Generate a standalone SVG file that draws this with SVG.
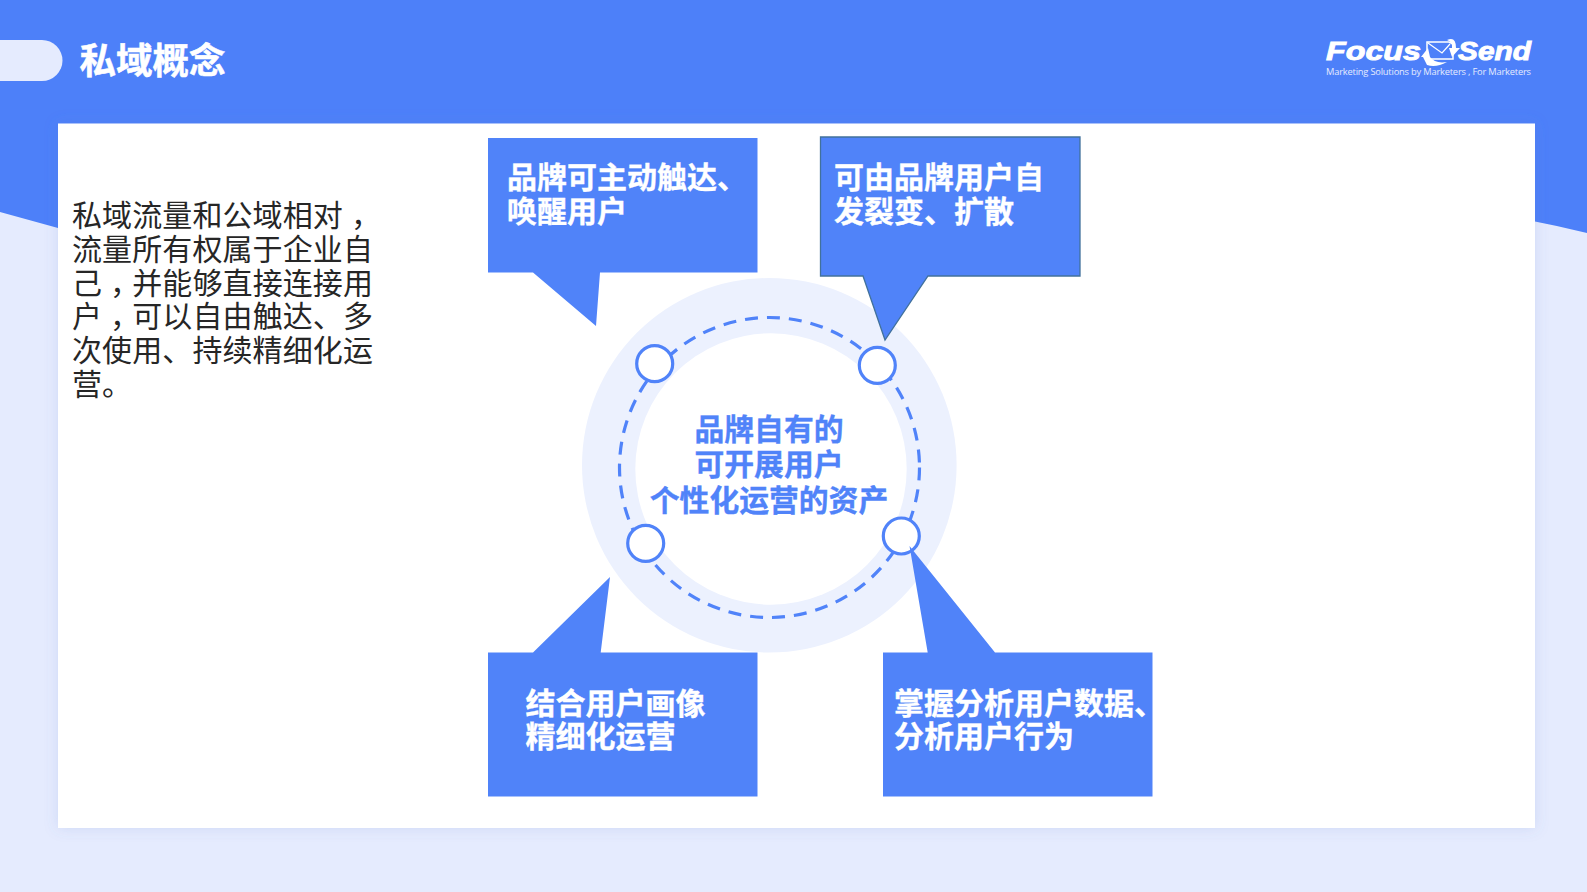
<svg xmlns="http://www.w3.org/2000/svg" width="1587" height="892" viewBox="0 0 1587 892">
<style>
text{font-family:"Noto Sans CJK SC","Liberation Sans",sans-serif}
.w{fill:#fff;font-weight:700;font-size:30px;stroke:#fff;stroke-width:.35}
.box{fill:#5083f9}
.dot{fill:#fff;stroke:#5083f9;stroke-width:3.2}
.logo{font-family:"Liberation Sans",sans-serif;font-style:italic;font-weight:700;font-size:26px;fill:#fff;stroke:#fff;stroke-width:.9}
</style>
<defs>
<filter id="sh" x="-3%" y="-3%" width="106%" height="106%"><feDropShadow dx="0" dy="0" stdDeviation="7" flood-color="#5a78c8" flood-opacity=".18"/></filter>
</defs>
<rect width="1587" height="892" fill="#e5ebfe"/>
<path d="M0 0H1587V233Q1500 212 1400 200L800 190L200 200Q100 205 58 228L0 212Z" fill="#4d80f9"/>
<path d="M0 40H42A20.500 20.500 0 0 1 42 81H0Z" fill="#e5ebfe"/>
<text x="79.500" y="73.500" font-size="36.500" font-weight="700" fill="#fff" stroke="#fff" stroke-width=".5">私域概念</text>
<g id="logo">
<text class="logo" x="1326" y="60" textLength="95" lengthAdjust="spacingAndGlyphs">Focus</text>
<path d="M1427 42H1449L1453 44V59H1427Z" fill="#4d80f9" stroke="#fff" stroke-width="1.500"/>
<path d="M1428 43L1442 53L1450 44" fill="none" stroke="#fff" stroke-width="1.200"/>
<path d="M1421 57L1428 48L1430 57Q1435 64 1447 62Q1436 68 1427 65L1423 57ZM1447 40Q1456 36 1456 48L1460 48L1452 57L1449 48L1452 48Q1453 42 1447 40Z" fill="#fff"/>
<text class="logo" x="1458" y="60" textLength="73" lengthAdjust="spacingAndGlyphs">Send</text>
<text x="1326" y="75" font-size="9.300" fill="#e5ebfe" style="font-family:'Open Sans',sans-serif" textLength="205">Marketing Solutions by Marketers , For Marketers</text>
</g>
<rect id="panel" x="58" y="123.500" width="1477" height="704.500" fill="#fff" filter="url(#sh)"/>
<g id="description" font-size="30" fill="#262626" letter-spacing=".1">
<text x="72" y="226">私域流量和公域相对<tspan dx="8">，</tspan></text>
<text x="72" y="260">流量所有权属于企业自</text>
<text x="72" y="294">己<tspan dx="8">，</tspan><tspan dx="-8">并</tspan>能够直接连接用</text>
<text x="72" y="327">户<tspan dx="8">，</tspan><tspan dx="-8">可</tspan>以自由触达、多</text>
<text x="72" y="361">次使用、持续精细化运</text>
<text x="72" y="395">营。</text>
</g>
<g id="hub">
<circle cx="769.300" cy="465.300" r="187.300" fill="#ecf1fe"/>
<circle cx="771" cy="469" r="135.700" fill="#fff"/>
<circle cx="769.500" cy="467.500" r="150" fill="none" stroke="#5083f9" stroke-width="3.200" stroke-dasharray="13 9"/>
<g font-size="29.800" font-weight="700" fill="#5083f9" stroke="#5083f9" stroke-width=".35" text-anchor="middle">
<text x="769" y="439.500">品牌自有的</text>
<text x="769" y="475">可开展用户</text>
<text x="769" y="510.500">个性化运营的资产</text>
</g>
</g>
<g id="dot-1"><circle class="dot" cx="654.700" cy="363.700" r="18"/></g>
<g id="dot-2"><circle class="dot" cx="877.300" cy="365.300" r="18"/></g>
<g id="dot-3"><circle class="dot" cx="645.700" cy="543.300" r="18"/></g>
<g id="dot-4"><circle class="dot" cx="901.300" cy="536" r="18"/></g>
<g id="callout-1">
<path class="box" d="M488 138H757.500V272.500H600L596 326L533 272.500H488Z"/>
<text class="w" x="507" y="188">品牌可主动触达、</text>
<text class="w" x="507" y="221.500">唤醒用户</text>
</g>
<g id="callout-2">
<path class="box" stroke="#41719c" stroke-width="1.300" d="M820.500 137H1080V276H928L885 340L863 276H820.500Z"/>
<text class="w" x="834" y="188">可由品牌用户自</text>
<text class="w" x="834" y="221.500">发裂变、扩散</text>
</g>
<g id="callout-3">
<path class="box" d="M488 652.500H533L610 577L600.700 652.500H757.500V796.500H488Z"/>
<text class="w" x="525.500" y="713.500">结合用户画像</text>
<text class="w" x="525.500" y="746.500">精细化运营</text>
</g>
<g id="callout-4">
<path class="box" d="M883 652.500H927.700L909.500 546L995 652.500H1152.500V796.500H883Z"/>
<text class="w" x="894" y="713.500">掌握分析用户数据、</text>
<text class="w" x="894" y="746.500">分析用户行为</text>
</g>
</svg>
